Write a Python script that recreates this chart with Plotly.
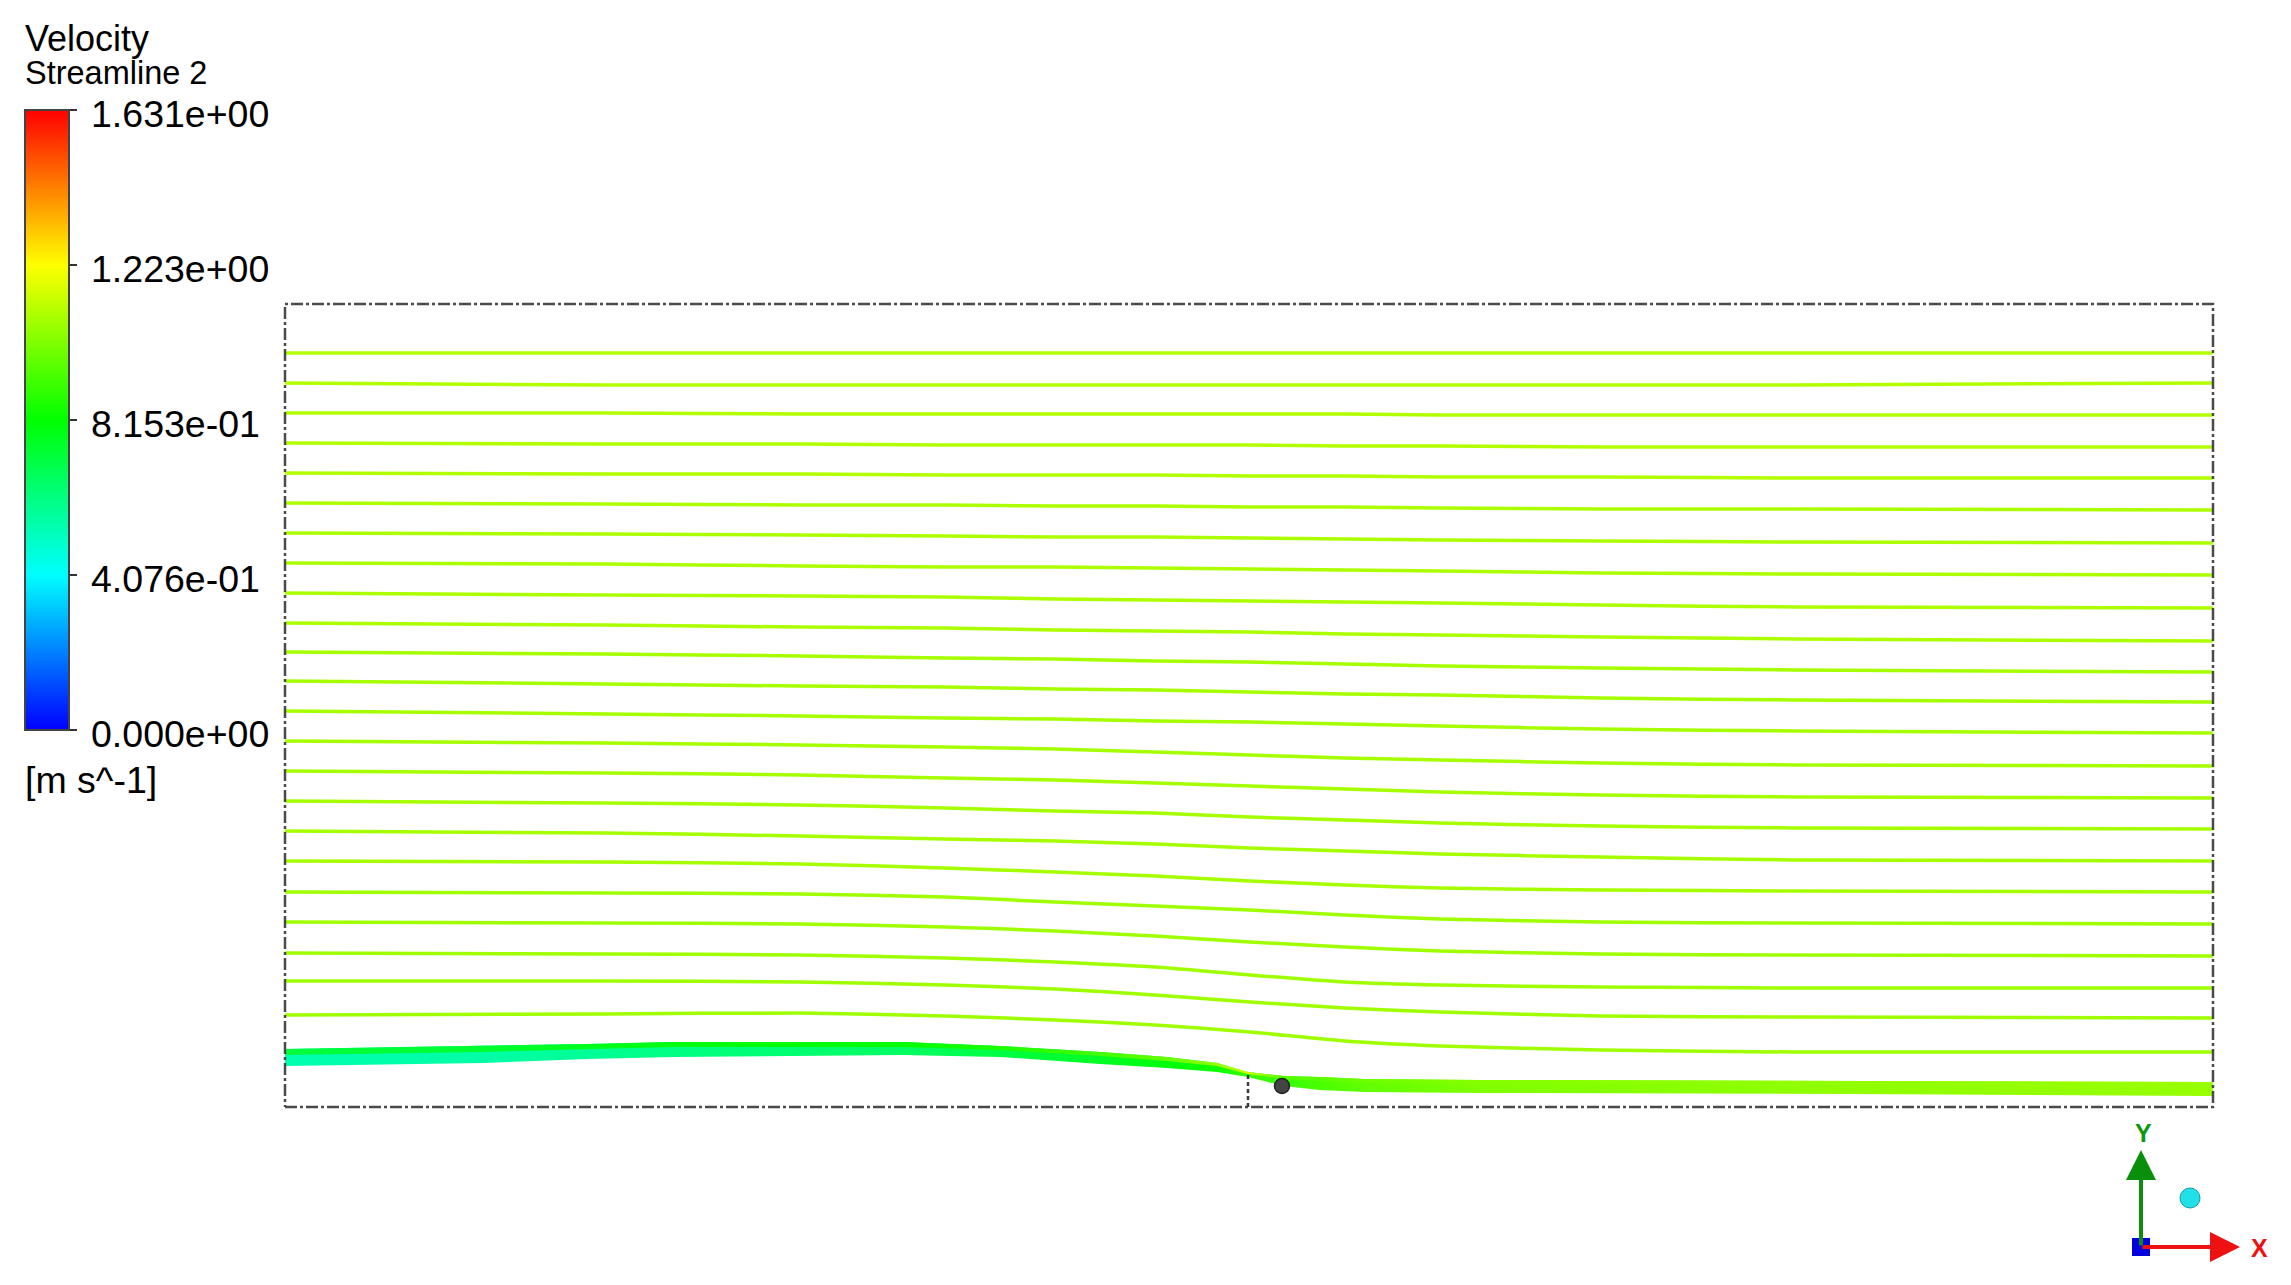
import plotly.graph_objects as go
from plotly.colors import sample_colorscale

# ---------------- data ----------------
VMAX = 1.631
cbar_vals = [0.0, 0.4076, 0.8153, 1.223, 1.631]
cbar_text = ["0.000e+00", "4.076e-01", "8.153e-01", "1.223e+00", "1.631e+00"]
colorscale = [[0.0, "rgb(0,0,255)"], [0.25, "rgb(0,255,255)"], [0.5, "rgb(0,255,0)"],
              [0.75, "rgb(255,255,0)"], [1.0, "rgb(255,0,0)"]]

# domain outline (mm)
domain_x = [0, 1928, 1928, 0, 0]
domain_y = [0, 0, 803, 803, 0]
step_x = [963, 963]
step_y = [0, 32]

# thin streamlines: y (mm) at stations x (mm)
station_x = [0, 320, 515, 660, 770, 870, 965, 1060, 1155, 1315, 1510, 1928]
stream_y = [
    [754, 754, 754, 754, 754, 754, 754, 754, 754, 754, 754, 754],
    [724, 722, 722, 722, 722, 722, 722, 722, 722, 722, 722, 724],
    [694, 694, 693, 693, 693, 693, 693, 693, 692, 692, 692, 692],
    [664, 663, 663, 662, 662, 662, 662, 661, 661, 660, 660, 660],
    [634, 633, 633, 632, 632, 632, 631, 631, 630, 630, 629, 629],
    [604, 603, 602, 602, 601, 601, 600, 600, 599, 598, 598, 597],
    [574, 573, 572, 571, 570, 570, 569, 568, 567, 566, 565, 564],
    [544, 543, 541, 540, 540, 539, 538, 537, 536, 534, 533, 532],
    [514, 512, 511, 510, 508, 507, 506, 505, 504, 502, 500, 499],
    [484, 482, 480, 479, 477, 476, 475, 473, 472, 470, 468, 466],
    [455, 453, 451, 449, 448, 446, 445, 443, 441, 439, 437, 435],
    [426, 423, 421, 420, 418, 417, 415, 413, 412, 409, 407, 405],
    [396, 393, 391, 389, 388, 386, 385, 383, 381, 378, 376, 374],
    [366, 364, 362, 360, 358, 355, 352, 349, 347, 344, 342, 341],
    [336, 334, 332, 329, 327, 324, 321, 318, 315, 312, 310, 309],
    [306, 304, 302, 299, 296, 294, 290, 287, 284, 281, 279, 278],
    [276, 274, 271, 268, 266, 263, 259, 256, 253, 250, 247, 246],
    [246, 245, 243, 239, 235, 231, 226, 222, 219, 217, 216, 215],
    [215, 214, 213, 210, 205, 201, 197, 192, 188, 185, 184, 183],
    [185, 184, 183, 180, 176, 171, 165, 160, 156, 153, 152, 151],
    [154, 153, 152, 149, 145, 140, 132, 125, 122, 120, 119, 119],
    [126, 126, 125, 122, 118, 112, 105, 99, 95, 91, 90, 89],
    [92, 93, 94, 91, 87, 82, 75, 66, 61, 57, 55, 55],
]
stream_v = [1.10, 1.10, 1.10, 1.10, 1.10, 1.09, 1.09, 1.09, 1.09, 1.09, 1.08, 1.08,
            1.08, 1.08, 1.08, 1.08, 1.08, 1.08, 1.07, 1.07, 1.07, 1.07, 1.07]

# thick low-velocity band (mm) and its velocity (m/s)
band_x = [0, 198, 302, 388, 618, 715, 815, 882, 932, 963, 999, 1035, 1079, 1195, 1565, 1928]
band_top = [58, 61, 63, 65, 65, 61, 55, 50, 44, 35, 31, 30, 28, 27, 26, 25]
band_mid = [52, 55, 58, 60, 60, 57, 51, 46, 41, 33, 28, 26, 24, 23, 22, 20]
band_bot = [41, 44, 48, 50, 52, 50, 43, 39, 35, 30, 21, 17, 15, 14, 13, 11]
band_v_upper = [0.72, 0.74, 0.77, 0.79, 0.82, 0.86, 0.92, 0.98, 1.05, 1.15, 0.95, 0.96, 0.99, 1.03, 1.05, 1.06]
band_v_lower = [0.535, 0.551, 0.575, 0.608, 0.66, 0.71, 0.76, 0.80, 0.84, 0.90, 0.90, 0.93, 0.97, 1.02, 1.045, 1.055]

probe_x = [997]
probe_y = [21]

# ---------------- figure ----------------
OFF = 8                      # default page body margin
W, H = 2291 - 2 * OFF, 1285 - 2 * OFF
# plot area in page px (1 mm = 1 px), converted to figure px
PL, PR, PT, PB = 281 - OFF, 2217 - OFF, 300 - OFF, 1111 - OFF
XR = [-4, 1932]
YR = [-4, 807]

# colour legend geometry (page px)
CB_LEFT, CB_TOP, CB_LEN, CB_THICK = 25, 110, 620, 44


def vcol(v):
    return sample_colorscale(colorscale, [max(0.0, min(1.0, v / VMAX))])[0]


def px(xp):  # page x -> paper
    return (xp - OFF - PL) / (PR - PL)


def py(yp):  # page y -> paper
    return (PB - (yp - OFF)) / (PB - PT)


fig = go.Figure()

# thin streamlines
for ys, v in zip(stream_y, stream_v):
    fig.add_trace(go.Scatter(x=station_x, y=ys, mode="lines",
                             line=dict(color=vcol(v), width=3.5, shape="spline", smoothing=0.6),
                             hoverinfo="skip", showlegend=False))

# band: lower (full) then upper part
xmax = band_x[-1]
cs_lower = [[bx / xmax, vcol(v)] for bx, v in zip(band_x, band_v_lower)]
cs_upper = [[bx / xmax, vcol(v)] for bx, v in zip(band_x, band_v_upper)]
fig.add_trace(go.Scatter(x=band_x + band_x[::-1], y=band_top + band_bot[::-1],
                         mode="lines", fill="toself", line=dict(width=0, color="rgba(0,0,0,0)"),
                         fillgradient=dict(type="horizontal", colorscale=cs_lower, start=0, stop=xmax),
                         hoverinfo="skip", showlegend=False))
fig.add_trace(go.Scatter(x=band_x + band_x[::-1], y=band_top + band_mid[::-1],
                         mode="lines", fill="toself", line=dict(width=0, color="rgba(0,0,0,0)"),
                         fillgradient=dict(type="horizontal", colorscale=cs_upper, start=0, stop=xmax),
                         hoverinfo="skip", showlegend=False))

# domain outline
dash = "12px,3px,3px,3px"
fig.add_trace(go.Scatter(x=domain_x, y=domain_y, mode="lines",
                         line=dict(color="#4a4a4a", width=2.5, dash=dash),
                         hoverinfo="skip", showlegend=False))
fig.add_trace(go.Scatter(x=step_x, y=step_y, mode="lines",
                         line=dict(color="#3a3a3a", width=2.5, dash="4px,3px"),
                         hoverinfo="skip", showlegend=False))

# probe sphere
fig.add_trace(go.Scatter(x=probe_x, y=probe_y, mode="markers",
                         marker=dict(size=15, color="#444444", line=dict(color="#222222", width=1.5)),
                         hoverinfo="skip", showlegend=False))

font_fam = "Liberation Sans, Arial, sans-serif"

# colour legend (dummy trace)
fig.add_trace(go.Scatter(x=[None], y=[None], mode="markers", showlegend=False, hoverinfo="skip",
                         marker=dict(color=[0.0], cmin=0, cmax=VMAX, colorscale=colorscale, showscale=True,
                                     colorbar=dict(
                                         x=px(CB_LEFT), xanchor="left", xref="paper",
                                         y=py(CB_TOP), yanchor="top", yref="paper",
                                         len=CB_LEN, lenmode="pixels", thickness=CB_THICK,
                                         thicknessmode="pixels",
                                         xpad=0, ypad=0,
                                         outlinewidth=2, outlinecolor="#444444",
                                         tickmode="array", tickvals=cbar_vals,
                                         ticks="outside", ticklen=7, tickwidth=2, tickcolor="#333333",
                                         showticklabels=False,
                                     ))))

annotations = [
    dict(text="<span style='font-size:36px'>Velocity</span><br>"
              "<span style='font-size:32.5px'>Streamline 2</span>",
         x=px(23), y=py(16), xref="paper", yref="paper",
         xanchor="left", yanchor="top", align="left", showarrow=False,
         font=dict(family=font_fam, size=25, color="black")),
    dict(text="[m s^-1]", x=px(23), y=py(780), xref="paper", yref="paper",
         xanchor="left", yanchor="middle", showarrow=False,
         font=dict(family=font_fam, size=37.5, color="black")),
]
# colour-legend tick labels, placed from the legend values
for v, t in zip(cbar_vals, cbar_text):
    ytick = CB_TOP + CB_LEN * (1 - v / VMAX)
    annotations.append(dict(text=t, x=px(89), y=py(ytick + 4), xref="paper", yref="paper",
                            xanchor="left", yanchor="middle", showarrow=False,
                            font=dict(family=font_fam, size=37.5, color="black")))

# orientation triad
annotations += [
    dict(text="", x=px(2141), y=py(1150), xref="paper", yref="paper",
         ax=0, ay=97, axref="pixel", ayref="pixel", showarrow=True,
         arrowhead=2, arrowsize=1.5, arrowwidth=4, arrowcolor="#0a8f0a"),
    dict(text="", x=px(2240), y=py(1247), xref="paper", yref="paper",
         ax=-99, ay=0, axref="pixel", ayref="pixel", showarrow=True,
         arrowhead=2, arrowsize=1.5, arrowwidth=4, arrowcolor="#ee1111"),
    dict(text="<b>Y</b>", x=px(2143), y=py(1133), xref="paper", yref="paper",
         xanchor="center", yanchor="middle", showarrow=False,
         font=dict(family=font_fam, size=25, color="#0a9a0a")),
    dict(text="<b>X</b>", x=px(2259), y=py(1248), xref="paper", yref="paper",
         xanchor="center", yanchor="middle", showarrow=False,
         font=dict(family=font_fam, size=25, color="#ee1111")),
]

shapes = [
    dict(type="rect", xref="paper", yref="paper",
         x0=px(2132), x1=px(2150), y0=py(1256), y1=py(1238),
         fillcolor="#0000dd", line=dict(width=0)),
    dict(type="circle", xref="paper", yref="paper",
         x0=px(2180), x1=px(2200), y0=py(1208), y1=py(1188),
         fillcolor="#22e0e8", line=dict(color="#11a0a8", width=1)),
]

fig.update_layout(
    width=W, height=H,
    margin=dict(l=PL, r=W - PR, t=PT, b=H - PB, pad=0),
    paper_bgcolor="white", plot_bgcolor="white",
    xaxis=dict(range=XR, visible=False, showgrid=False, zeroline=False),
    yaxis=dict(range=YR, visible=False, showgrid=False, zeroline=False),
    annotations=annotations, shapes=shapes,
    showlegend=False,
)

fig.write_html("out.html")
